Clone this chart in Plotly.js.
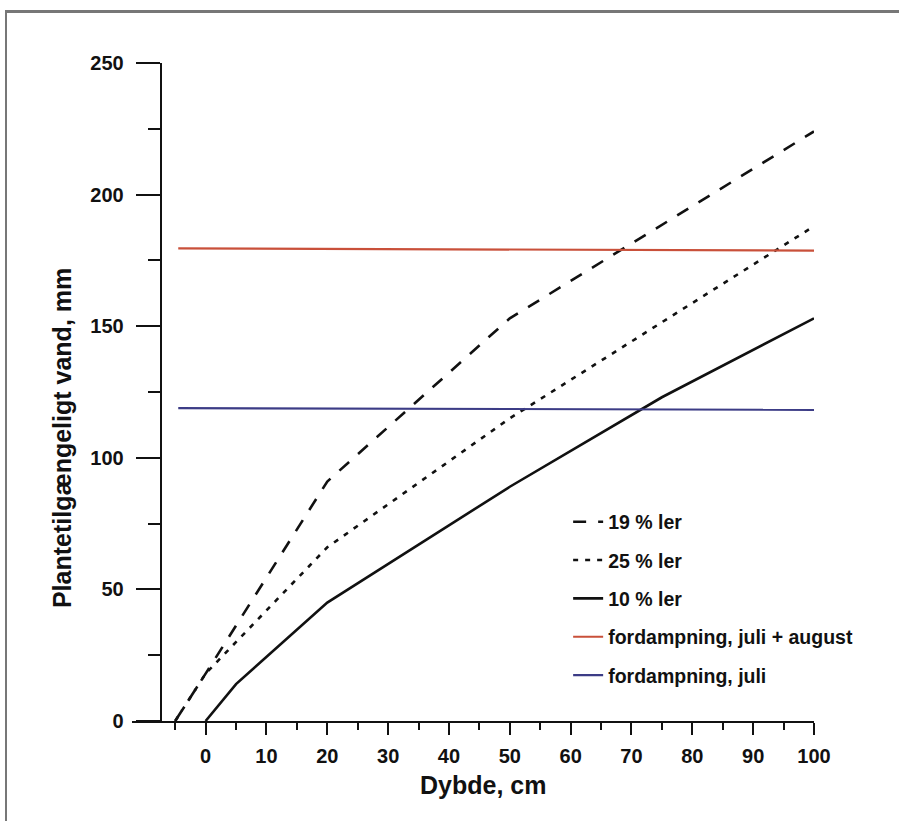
<!DOCTYPE html>
<html>
<head>
<meta charset="utf-8">
<script src="https://cdn.plot.ly/plotly-3.0.1.min.js"></script>
<style>
  html, body { margin: 0; padding: 0; background: #fff; }
  #wrap { position: relative; width: 899px; height: 821px; overflow: hidden; }
  #chart { position: absolute; left: 0; top: 0; width: 899px; height: 821px; }
  #frame { position: absolute; left: 5px; top: 10px; width: 1000px; height: 900px;
           border-left: 2px solid #777; border-top: 3px solid #777; pointer-events: none; }
</style>
</head>
<body>
<div id="wrap">
  <div id="chart"></div>
  <div id="frame"></div>
</div>
<script>
// ---- data ----
const depth19 = [-5, 0, 20, 50, 100];
const water19 = [0, 18, 91, 153, 224];

const depth25 = [-5, 0, 20, 50, 100];
const water25 = [0, 18, 66, 115, 188];

const depth10 = [0, 5, 20, 50, 75, 100];
const water10 = [0, 14, 45, 89, 123, 153];

const evapDepth = [-4.5, 100];
const evapJulAug = [179.6, 178.7];
const evapJul = [118.9, 118.2];

const seriesNames = ["19 % ler", "25 % ler", "10 % ler",
                     "fordampning, juli + august", "fordampning, juli"];

const xMajorTicks = [0, 10, 20, 30, 40, 50, 60, 70, 80, 90, 100];
const xMinorTicks = [-5, 5, 15, 25, 35, 45, 55, 65, 75, 85, 95];
const yMajorTicks = [0, 50, 100, 150, 200, 250];
const yMinorTicks = [25, 75, 125, 175, 225];

const xTitle = "Dybde, cm";
const yTitle = "Plantetilgængeligt vand, mm";

// ---- drawing ----
const FONT = "Liberation Sans, Arial, sans-serif";
const INK = "#111";

const traces = [
  { x: depth19, y: water19, name: seriesNames[0], mode: "lines", legendgroup: "a",
    line: { color: INK, width: 2.6, dash: "13px,12px" } },
  { x: depth25, y: water25, name: seriesNames[1], mode: "lines", legendgroup: "b",
    line: { color: INK, width: 2.6, dash: "5px,7px" } },
  { x: depth10, y: water10, name: seriesNames[2], mode: "lines", legendgroup: "c",
    line: { color: INK, width: 2.6 } },
  { x: evapDepth, y: evapJulAug, name: seriesNames[3], mode: "lines", legendgroup: "d",
    line: { color: "#c9503a", width: 2.2 } },
  { x: evapDepth, y: evapJul, name: seriesNames[4], mode: "lines", legendgroup: "e",
    line: { color: "#3c3c86", width: 2.2 } }
];

const layout = {
  width: 899, height: 821,
  margin: { l: 132, r: 85, t: 63, b: 100 },
  paper_bgcolor: "#fff", plot_bgcolor: "#fff",
  font: { family: FONT, color: INK },
  showlegend: true,
  legend: {
    x: 0.6395, y: 0.332, xanchor: "left", yanchor: "top",
    font: { family: FONT, size: 19.5, color: INK, weight: "bold" },
    traceorder: "grouped", tracegroupgap: 10,
    bgcolor: "rgba(0,0,0,0)", borderwidth: 0
  },
  xaxis: {
    range: [-12.1, 100], showgrid: false, zeroline: false,
    showline: true, linecolor: INK, linewidth: 2,
    tickmode: "array", tickvals: xMajorTicks,
    ticks: "outside", ticklen: 12, tickwidth: 2, tickcolor: INK,
    ticklabelstandoff: 4,
    tickfont: { family: FONT, size: 20, color: INK, weight: "bold" },
    minor: { tickmode: "array", tickvals: xMinorTicks, ticks: "outside",
             ticklen: 7, tickwidth: 2, tickcolor: INK, showgrid: false },
    fixedrange: true
  },
  yaxis: {
    range: [0, 250], showgrid: false, zeroline: false,
    anchor: "free", position: 0.042,
    showline: true, linecolor: INK, linewidth: 2,
    tickmode: "array", tickvals: yMajorTicks,
    ticks: "outside", ticklen: 24, tickwidth: 2, tickcolor: INK,
    ticklabelstandoff: 8,
    tickfont: { family: FONT, size: 20, color: INK, weight: "bold" },
    minor: { tickmode: "array", tickvals: yMinorTicks, ticks: "outside",
             ticklen: 12, tickwidth: 2, tickcolor: INK, showgrid: false },
    fixedrange: true
  },
  annotations: [
    { text: xTitle, xref: "paper", yref: "paper", x: 0.5147, y: -0.0973,
      xanchor: "center", yanchor: "middle", showarrow: false,
      font: { family: FONT, size: 25, color: INK, weight: "bold" } },
    { text: yTitle, xref: "paper", yref: "paper", x: -0.1026, y: 0.43,
      xanchor: "center", yanchor: "middle", showarrow: false, textangle: -90,
      font: { family: FONT, size: 25, color: INK, weight: "bold" } }
  ]
};

Plotly.newPlot("chart", traces, layout, { staticPlot: true, displayModeBar: false });
</script>
</body>
</html>
